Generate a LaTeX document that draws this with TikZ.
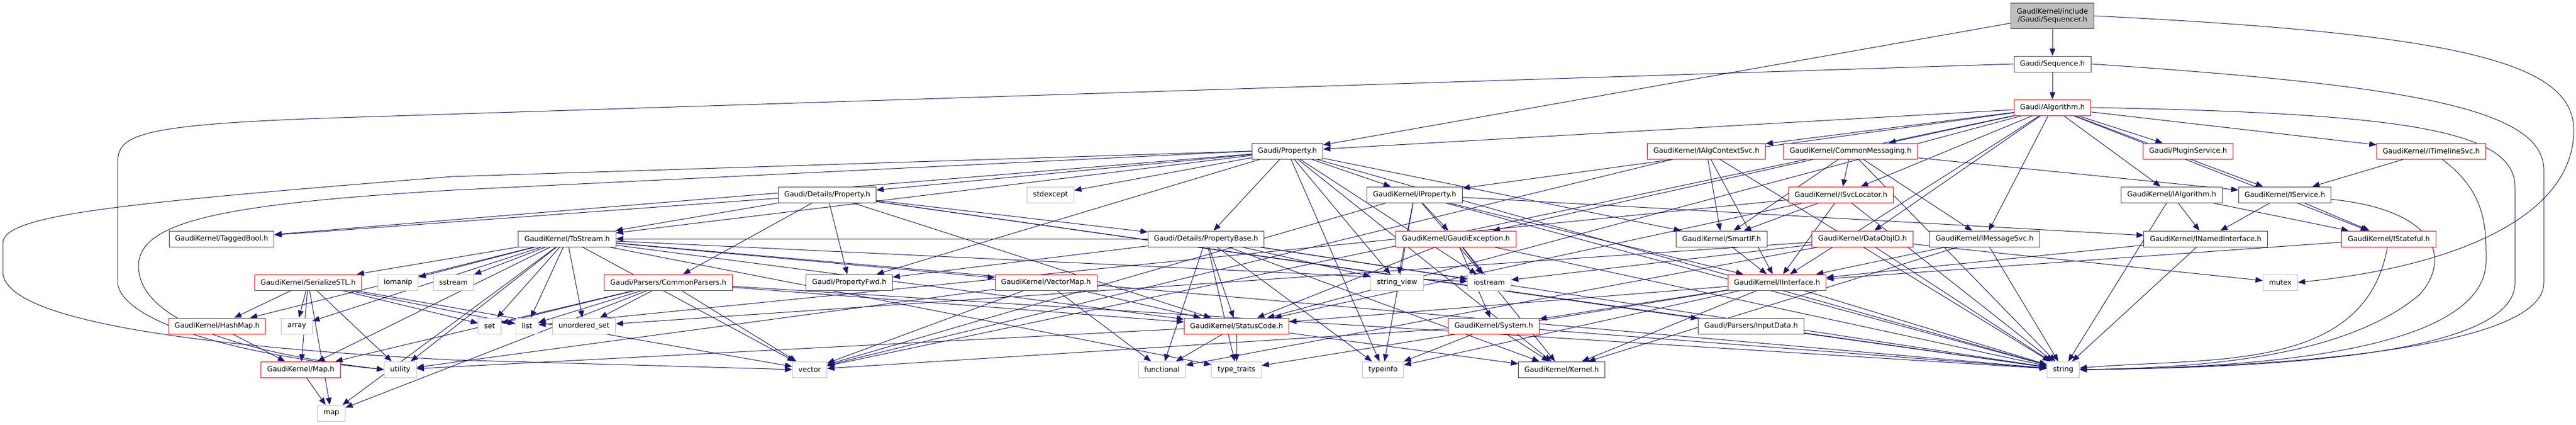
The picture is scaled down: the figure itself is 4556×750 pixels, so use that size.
\documentclass[tikz,border=0pt]{standalone}
\usepackage{fontspec}
\setmainfont{DejaVu Sans}
\usetikzlibrary{arrows.meta,backgrounds}
\definecolor{edgeblue}{HTML}{191970}
\definecolor{doxgrey}{HTML}{BFBFBF}
\definecolor{doxdark}{HTML}{404040}
\begin{document}
\begin{tikzpicture}[x=0.75pt,y=-0.75pt,
	hdr/.style={draw=doxdark,fill=white,line width=0.75pt,inner xsep=8pt,inner ysep=0pt,minimum height=21pt,font=\fontsize{9.4}{11}\selectfont},
	trunc/.style={hdr,draw=red},
	sys/.style={hdr,draw=doxgrey},
	dep/.style={draw=edgeblue,line width=0.75pt,-{Triangle[length=9.5pt,width=7.5pt]}}]
	\useasboundingbox (0,0) rectangle (4556,750);
	% Top
	\node[hdr,fill=doxgrey,align=center,minimum height=34pt] (seqr) at (3630,28) {GaudiKernel/include\\/Gaudi/Sequencer.h};
	\node[hdr] (seq) at (3630,113) {Gaudi/Sequence.h};
	\node[trunc] (alg) at (3630,190) {Gaudi/Algorithm.h};
	% Row 3
	\node[hdr] (prop) at (2277,267) {Gaudi/Property.h};
	\node[trunc] (algctx) at (3018,267) {GaudiKernel/IAlgContextSvc.h};
	\node[trunc] (commsg) at (3273,267) {GaudiKernel/CommonMessaging.h};
	\node[trunc] (plugin) at (3870,267) {Gaudi/PluginService.h};
	\node[trunc] (timeline) at (4300,267) {GaudiKernel/ITimelineSvc.h};
	% Row 4
	\node[hdr] (dprop) at (1463,344) {Gaudi/Details/Property.h};
	\node[sys] (stdexc) at (1858,344) {stdexcept};
	\node[hdr] (iprop) at (2502,344) {GaudiKernel/IProperty.h};
	\node[trunc] (svcloc) at (3256,344) {GaudiKernel/ISvcLocator.h};
	\node[hdr] (ialg) at (3841,344) {GaudiKernel/IAlgorithm.h};
	\node[hdr] (isvc) at (4041,344) {GaudiKernel/IService.h};
	% Row 5
	\node[hdr] (tagged) at (392,422) {GaudiKernel/TaggedBool.h};
	\node[hdr] (tostream) at (1003,422) {GaudiKernel/ToStream.h};
	\node[hdr] (pbase) at (2133,422) {Gaudi/Details/PropertyBase.h};
	\node[trunc] (gexc) at (2575,422) {GaudiKernel/GaudiException.h};
	\node[hdr] (smartif) at (3045,422) {GaudiKernel/SmartIF.h};
	\node[trunc] (dataobj) at (3294,422) {GaudiKernel/DataObjID.h};
	\node[hdr] (imsg) at (3510,422) {GaudiKernel/IMessageSvc.h};
	\node[hdr] (inamed) at (3901,422) {GaudiKernel/INamedInterface.h};
	\node[trunc] (istate) at (4225,422) {GaudiKernel/IStateful.h};
	% Row 6
	\node[trunc] (serial) at (545,499) {GaudiKernel/SerializeSTL.h};
	\node[sys] (iomanip) at (704,499) {iomanip};
	\node[sys] (sstream) at (802,499) {sstream};
	\node[trunc] (cparse) at (1182,499) {Gaudi/Parsers/CommonParsers.h};
	\node[hdr] (pfwd) at (1502,499) {Gaudi/PropertyFwd.h};
	\node[trunc] (vmap) at (1850,499) {GaudiKernel/VectorMap.h};
	\node[sys] (strview) at (2471,499) {string\_view};
	\node[sys] (iostream) at (2634,499) {iostream};
	\node[trunc] (iiface) at (3143,499) {GaudiKernel/IInterface.h};
	\node[sys] (mutex) at (4033,499) {mutex};
	% Row 7
	\node[trunc] (hashmap) at (384,576) {GaudiKernel/HashMap.h};
	\node[sys] (array) at (525,576) {array};
	\node[sys] (set) at (866,576) {set};
	\node[sys] (list) at (932,576) {list};
	\node[sys] (uset) at (1033,576) {unordered\_set};
	\node[trunc] (status) at (2187,576) {GaudiKernel/StatusCode.h};
	\node[trunc] (system) at (2642,576) {GaudiKernel/System.h};
	\node[hdr] (inputd) at (3097,576) {Gaudi/Parsers/InputData.h};
	% Row 8
	\node[trunc] (gmap) at (532,653) {GaudiKernel/Map.h};
	\node[sys] (utility) at (708,653) {utility};
	\node[sys] (vector) at (1432,653) {vector};
	\node[sys] (functional) at (2055,653) {functional};
	\node[sys] (typetraits) at (2187,653) {type\_traits};
	\node[sys] (typeinfo) at (2446,653) {typeinfo};
	\node[hdr] (kernel) at (2762,653) {GaudiKernel/Kernel.h};
	\node[sys] (string) at (3649,653) {string};
	% Row 9
	\node[sys] (map) at (586,730) {map};
	\begin{pgfonlayer}{background}
	% Sequencer.h and Sequence.h
	\foreach \dst in {seq,prop} \draw[dep] (seqr) -- (\dst);
	\draw[dep] (seqr.east) .. controls (4350,60) and (4552,110) .. (4552,230) .. controls (4552,380) and (4350,470) .. (mutex.east);
	\draw[dep] (seq) -- (alg);
	\draw[dep] (seq.east) .. controls (4250,150) and (4499,190) .. (4499,300) -- (4499,500) .. controls (4499,620) and (4000,650) .. (string.east);
	\draw[dep] (seq.west) -- (600,208) .. controls (230,220) and (208,240) .. (208,290) -- (208,500) .. controls (215,565) and (400,625) .. (utility.west);
	% Algorithm.h
	\foreach \dst in {prop,iprop,algctx,commsg,svcloc,dataobj,imsg,plugin,ialg,isvc,istate,timeline,iiface,status,vector}
		\draw[dep] (alg) -- (\dst);
	\draw[dep] (alg.east) .. controls (4250,200) and (4448,230) .. (4448,330) -- (4448,500) .. controls (4448,630) and (4000,650) .. (string.east);
	% Property.h
	\foreach \dst in {dprop,pbase,pfwd,iprop,kernel,smartif,tagged,tostream,stdexc,string,strview,typeinfo,iostream}
		\draw[dep] (prop) -- (\dst);
	\draw[dep] (prop.west) -- (800,312) .. controls (200,360) and (5,380) .. (5,430) -- (5,480) .. controls (5,560) and (300,610) .. (800,636) -- (vector.west);
	\draw[dep] (prop.west) -- (800,336) .. controls (400,360) and (245,390) .. (245,470) .. controls (245,560) and (400,620) .. (utility.west);
	% Row 3
	\foreach \dst in {smartif,iiface,string,vector} \draw[dep] (algctx) -- (\dst);
	\foreach \dst in {svcloc,smartif,imsg,gexc,isvc,string} \draw[dep] (commsg) -- (\dst);
	\draw[dep] (timeline) -- (isvc);
	\draw[dep] (timeline) .. controls (4397,340) and (4397,400) .. (4397,460) .. controls (4397,620) and (4000,650) .. (string.east);
	% Row 4
	\foreach \dst in {tostream,cparse,pfwd,pbase,inputd,tagged,string,status} \draw[dep] (dprop) -- (\dst);
	\foreach \dst in {gexc,strview,iostream,iiface,inamed,string,vector,typeinfo} \draw[dep] (iprop) -- (\dst);
	\foreach \dst in {smartif,iiface,string,status,list} \draw[dep] (svcloc) -- (\dst);
	\foreach \dst in {inamed,istate,string} \draw[dep] (ialg) -- (\dst);
	\foreach \dst in {inamed,istate} \draw[dep] (isvc) -- (\dst);
	\draw[dep] (isvc) .. controls (4300,370) and (4340,450) .. (4280,520) .. controls (4150,630) and (3900,650) .. (string.east);
	% Row 5
	\foreach \dst in {serial,iomanip,sstream,set,list,uset,array,hashmap,gmap,map,vector,utility,string,vmap,status,typetraits,iostream}
		\draw[dep] (tostream) -- (\dst);
	\foreach \dst in {pfwd,functional,status,typetraits,string,strview,iostream,typeinfo,tostream,kernel}
		\draw[dep] (pbase) -- (\dst);
	\foreach \dst in {iostream,string,status,kernel,system} \draw[dep] (gexc) -- (\dst);
	\draw[dep] (smartif) -- (iiface);
	\foreach \dst in {iostream,functional,string,mutex,uset} \draw[dep] (dataobj) -- (\dst);
	\foreach \dst in {iiface,string,kernel} \draw[dep] (imsg) -- (\dst);
	\foreach \dst in {iiface,string} \draw[dep] (inamed) -- (\dst);
	\draw[dep] (istate) -- (iiface);
	\draw[dep] (istate) to[out=-100,in=5] (string);
	% Row 6
	\foreach \dst in {hashmap,array,gmap,map,utility,list,set,vector} \draw[dep] (serial) -- (\dst);
	\foreach \dst in {set,list,uset,vector,map,gmap,status,string} \draw[dep] (cparse) -- (\dst);
	\foreach \dst in {functional,status,vector,utility} \draw[dep] (vmap) -- (\dst);
	\foreach \dst in {kernel,status,system,typetraits,typeinfo,string} \draw[dep] (iiface) -- (\dst);
	% Row 7
	\draw[dep] (hashmap) -- (gmap);
	\foreach \dst in {functional,typetraits,utility,kernel} \draw[dep] (status) -- (\dst);
	\foreach \dst in {typeinfo,kernel,string,vector} \draw[dep] (system) -- (\dst);
	\draw[dep] (inputd) -- (string);
	% Row 8
	\draw[dep] (gmap) -- (map);
	\end{pgfonlayer}
\end{tikzpicture}
\end{document}
